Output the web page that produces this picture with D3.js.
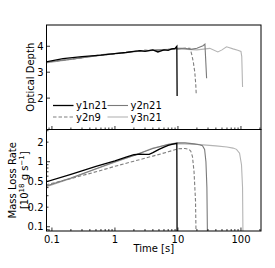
<!DOCTYPE html>
<html>
<head>
<meta charset="utf-8">
<script src="https://cdn.jsdelivr.net/npm/d3@7"></script>
<style>
  body { margin: 0; background: #fff; }
  text { font-family: 'DejaVu Sans', sans-serif; font-size: 10px; fill: #000; }
</style>
</head>
<body>
<div id="chart"></div>
<script>
const width = 275, height = 268;
const left = 46.5, right = 261;
const topPanel = { top: 25, bottom: 129.5 };
const botPanel = { top: 129.5, bottom: 231 };

// series data
const seriesNames = ['y1n21', 'y2n21', 'y2n9', 'y3n21'];

const tDepthY1n21 = [0.08, 0.15, 0.3, 0.6, 1.0, 1.5, 2.0, 2.5, 3.0, 4.0, 4.8, 6.0, 7.0, 8.0, 9.0, 9.6, 9.7];
const depthY1n21 = [3.40, 3.52, 3.60, 3.66, 3.72, 3.76, 3.80, 3.83, 3.80, 3.86, 3.78, 3.86, 3.84, 3.90, 3.92, 4.00, 2.08];
const tRateY1n21 = [0.08, 0.2, 0.5, 1.0, 1.5, 2.0, 2.5, 3.0, 3.5, 4.0, 5.0, 6.0, 7.0, 8.0, 9.6, 9.7];
const rateY1n21 = [0.49, 0.64, 0.85, 1.03, 1.18, 1.28, 1.31, 1.30, 1.30, 1.38, 1.55, 1.68, 1.78, 1.85, 1.92, 0.05];

const tDepthY2n21 = [0.08, 0.2, 0.5, 1.0, 2.0, 4.0, 7.0, 10, 13, 16, 20, 25, 26.8, 28.5];
const depthY2n21 = [3.38, 3.50, 3.63, 3.72, 3.79, 3.84, 3.88, 3.92, 3.92, 3.88, 3.92, 4.02, 4.08, 2.77];
const tRateY2n21 = [0.08, 0.2, 0.5, 1.0, 2.0, 4.0, 7.0, 10, 13, 18, 22, 24.5, 26.5, 27.8, 28.8, 29.5];
const rateY2n21 = [0.42, 0.56, 0.78, 1.0, 1.25, 1.6, 1.85, 1.95, 1.95, 1.88, 1.82, 1.76, 1.55, 1.0, 0.4, 0.05];

const tDepthY2n9 = [0.08, 0.2, 0.5, 1.0, 2.0, 3.0, 5.0, 8.0, 10, 13, 15.5, 16.5, 17.5, 18.5, 19.2, 19.5];
const depthY2n9 = [3.38, 3.50, 3.64, 3.70, 3.80, 3.85, 3.84, 3.88, 3.90, 3.92, 3.92, 3.70, 3.40, 3.00, 2.50, 2.15];
const tRateY2n9 = [0.08, 0.2, 0.5, 1.0, 2.0, 4.0, 7.0, 10, 13, 15, 16, 17, 18, 19, 19.5];
const rateY2n9 = [0.44, 0.55, 0.70, 0.85, 1.02, 1.22, 1.42, 1.58, 1.60, 1.55, 1.45, 1.2, 0.7, 0.25, 0.05];

const tDepthY3n21 = [0.08, 0.2, 0.5, 0.8, 1.0, 2.0, 4.0, 10, 20, 32, 43, 50, 59, 75, 89, 100, 103, 106];
const depthY3n21 = [3.36, 3.49, 3.64, 3.72, 3.72, 3.80, 3.85, 3.90, 3.86, 3.92, 3.78, 3.86, 3.98, 3.90, 3.85, 3.80, 3.60, 2.43];
const tRateY3n21 = [0.08, 0.2, 0.5, 1.0, 2.0, 4.0, 7.0, 10, 20, 40, 60, 75, 85, 95, 102, 106, 108];
const rateY3n21 = [0.41, 0.55, 0.77, 0.98, 1.25, 1.62, 1.82, 1.90, 1.85, 1.75, 1.68, 1.62, 1.55, 1.35, 0.9, 0.4, 0.05];

const xTicks = [0.1, 1, 10, 100];
const xTickLabels = ['0.1', '1', '10', '100'];
const depthTicks = [2, 3, 4];
const rateTicks = [0.1, 0.2, 0.5, 1, 2];
const rateTickLabels = ['0.1', '0.2', '0.5', '1', '2'];

const styles = {
    y1n21: { color: '#000000', dash: null, w: 1.3 },
    y2n21: { color: '#7a7a7a', dash: null, w: 1.1 },
    y2n9:  { color: '#7f7f7f', dash: '3.5,2', w: 1.1 },
    y3n21: { color: '#b4b4b4', dash: null, w: 1.1 }
};

const depthData = {
    y1n21: d3.zip(tDepthY1n21, depthY1n21),
    y2n21: d3.zip(tDepthY2n21, depthY2n21),
    y2n9: d3.zip(tDepthY2n9, depthY2n9),
    y3n21: d3.zip(tDepthY3n21, depthY3n21)
};
const rateData = {
    y1n21: d3.zip(tRateY1n21, rateY1n21),
    y2n21: d3.zip(tRateY2n21, rateY2n21),
    y2n9: d3.zip(tRateY2n9, rateY2n9),
    y3n21: d3.zip(tRateY3n21, rateY3n21)
};

const svg = d3.select('#chart').append('svg')
    .attr('width', width)
    .attr('height', height);

const x = d3.scaleLog().domain([0.082, 208]).range([left, right]);
const yDepth = d3.scaleLinear().domain([0.79, 4.82]).range([topPanel.bottom, topPanel.top]);
const yRate = d3.scaleLog().domain([0.086, 3.13]).range([botPanel.bottom, botPanel.top]);

// clip paths
const defs = svg.append('defs');
[['clipTop', topPanel], ['clipBot', botPanel]].forEach(([id, p]) => {
    defs.append('clipPath').attr('id', id)
        .append('rect')
        .attr('x', left).attr('y', p.top)
        .attr('width', right - left).attr('height', p.bottom - p.top);
});

// draw lines
function drawLines(data, y, clipId) {
    const line = d3.line().x(d => x(d[0])).y(d => y(d[1]));
    const g = svg.append('g').attr('clip-path', `url(#${clipId})`);
    ['y3n21', 'y2n21', 'y2n9', 'y1n21'].forEach(name => {
        g.append('path')
            .attr('d', line(data[name]))
            .attr('fill', 'none')
            .attr('stroke', styles[name].color)
            .attr('stroke-width', styles[name].w)
            .attr('stroke-dasharray', styles[name].dash);
    });
}
drawLines(depthData, yDepth, 'clipTop');
drawLines(rateData, yRate, 'clipBot');

// minor ticks for log axes
function logMinor(lo, hi) {
    const out = [];
    for (let e = Math.floor(Math.log10(lo)); e <= Math.ceil(Math.log10(hi)); e++) {
        for (let m = 1; m < 10; m++) {
            const v = m * Math.pow(10, e);
            if (v >= lo && v <= hi) out.push(v);
        }
    }
    return out;
}

const tickG = svg.append('g').attr('stroke', '#000').attr('stroke-width', 0.8);

// x ticks (inward) on both panels
[topPanel, botPanel].forEach(p => {
    logMinor(0.082, 208).forEach(v => {
        const major = xTicks.includes(v);
        tickG.append('line')
            .attr('x1', x(v)).attr('x2', x(v))
            .attr('y1', p.bottom).attr('y2', p.bottom - (major ? 3.5 : 2));
    });
});

// y ticks top panel
depthTicks.forEach(v => {
    tickG.append('line')
        .attr('x1', left).attr('x2', left + 3.5)
        .attr('y1', yDepth(v)).attr('y2', yDepth(v));
});

// y ticks bottom panel
logMinor(0.086, 3.13).forEach(v => {
    const major = v === 0.1 || v === 1;
    tickG.append('line')
        .attr('x1', left).attr('x2', left + (major ? 3.5 : 2))
        .attr('y1', yRate(v)).attr('y2', yRate(v));
});

// frames
[topPanel, botPanel].forEach(p => {
    svg.append('rect')
        .attr('x', left).attr('y', p.top)
        .attr('width', right - left).attr('height', p.bottom - p.top)
        .attr('fill', 'none')
        .attr('stroke', '#000')
        .attr('stroke-width', 1);
});

// tick labels
depthTicks.forEach(v => {
    svg.append('text')
        .attr('x', left - 3).attr('y', yDepth(v) + 3.6)
        .attr('text-anchor', 'end')
        .text(v);
});
rateTicks.forEach((v, i) => {
    svg.append('text')
        .attr('x', left - 3).attr('y', yRate(v) + 3.6)
        .attr('text-anchor', 'end')
        .text(rateTickLabels[i]);
});
xTicks.forEach((v, i) => {
    svg.append('text')
        .attr('x', x(v)).attr('y', 243)
        .attr('text-anchor', 'middle')
        .text(xTickLabels[i]);
});

// axis labels
svg.append('text')
    .attr('x', (left + right) / 2).attr('y', 252)
    .attr('text-anchor', 'middle')
    .text('Time [s]');

svg.append('text')
    .attr('transform', `translate(34,${(topPanel.top + topPanel.bottom) / 2}) rotate(-90)`)
    .attr('text-anchor', 'middle')
    .text('Optical Depth');

const rateMid = (botPanel.top + botPanel.bottom) / 2;
svg.append('text')
    .attr('transform', `translate(16,${rateMid}) rotate(-90)`)
    .attr('text-anchor', 'middle')
    .text('Mass Loss Rate');

const unit = svg.append('text')
    .attr('transform', `translate(28,${rateMid}) rotate(-90)`)
    .attr('text-anchor', 'middle');
unit.append('tspan').text('[10');
unit.append('tspan').attr('dy', -4).style('font-size', '7px').text('18');
unit.append('tspan').attr('dy', 4).text(' g s');
unit.append('tspan').attr('dy', -4).style('font-size', '7px').text('\u22121');
unit.append('tspan').attr('dy', 4).text(']');

// legend
const legendPos = [
    { name: 'y1n21', x: 53, y: 105.5 },
    { name: 'y2n21', x: 107.5, y: 105.5 },
    { name: 'y2n9', x: 53, y: 117 },
    { name: 'y3n21', x: 107.5, y: 117 }
];
legendPos.forEach(l => {
    const s = styles[l.name];
    svg.append('line')
        .attr('x1', l.x).attr('x2', l.x + 20.5)
        .attr('y1', l.y).attr('y2', l.y)
        .attr('stroke', s.color)
        .attr('stroke-width', s.w)
        .attr('stroke-dasharray', s.dash);
    svg.append('text')
        .attr('x', l.x + 23).attr('y', l.y + 3.6)
        .text(l.name);
});
</script>
</body>
</html>
